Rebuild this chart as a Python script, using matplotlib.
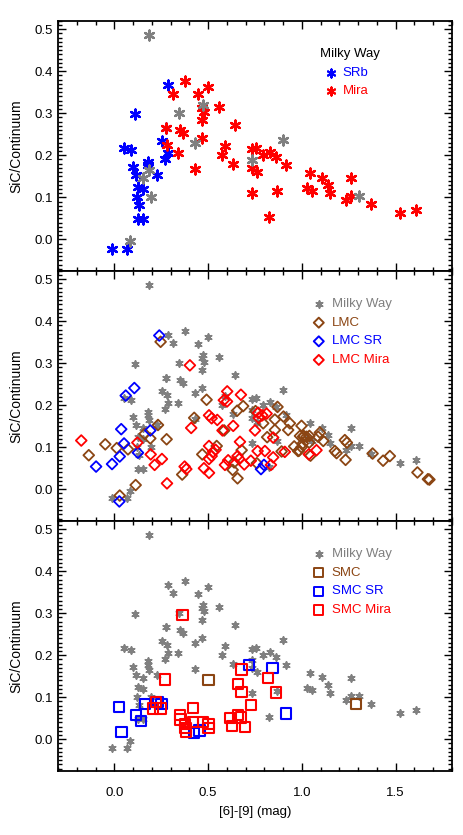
"""
SiC feature strength vs [6]-[9] colour for Galactic, LMC and SMC carbon stars.
Three stacked panels sharing the x axis, IDL-style framing.
"""

import matplotlib

matplotlib.use("Agg")
import matplotlib.pyplot as plt
from matplotlib.ticker import MultipleLocator

plt.rcParams["font.family"] = ["Liberation Sans", "DejaVu Sans"]
plt.rcParams["font.size"] = 9.5

# --- Milky Way -------------------------------------------------------------
MW_OTHER_X = [0.184, 0.084, 0.346, 0.430, 0.474, 0.155, 0.187, 0.196, 0.736, 0.899, 1.303]
MW_OTHER_Y = [0.486, -0.004, 0.301, 0.229, 0.320, 0.145, 0.165, 0.101, 0.189, 0.237, 0.103]

MW_SRB_X = [-0.011, 0.068, 0.110, 0.053, 0.089, 0.101, 0.116, 0.178, 0.180, 0.226, 0.128,
            0.155, 0.122, 0.132, 0.128, 0.155, 0.252, 0.268, 0.284, 0.276, 0.285]
MW_SRB_Y = [-0.022, -0.022, 0.298, 0.218, 0.213, 0.171, 0.153, 0.185, 0.177, 0.153, 0.124,
            0.120, 0.101, 0.081, 0.048, 0.048, 0.234, 0.192, 0.205, 0.266, 0.367]

MW_MIRA_X = [0.276, 0.282, 0.314, 0.378, 0.340, 0.350, 0.368, 0.431, 0.447, 0.502, 0.466,
             0.479, 0.468, 0.470, 0.560, 0.644, 0.592, 0.576, 0.633, 0.734, 0.754, 0.732,
             0.761, 0.736, 0.793, 0.828, 0.863, 0.913, 0.870, 0.824, 1.044, 1.027, 1.055,
             1.106, 1.140, 1.149, 1.236, 1.262, 1.262, 1.367, 1.523, 1.608]
MW_MIRA_Y = [0.266, 0.224, 0.347, 0.377, 0.206, 0.260, 0.252, 0.168, 0.346, 0.363, 0.312,
             0.304, 0.283, 0.240, 0.314, 0.271, 0.221, 0.200, 0.179, 0.215, 0.217, 0.169,
             0.161, 0.110, 0.200, 0.207, 0.195, 0.176, 0.115, 0.052, 0.157, 0.121, 0.116,
             0.147, 0.129, 0.110, 0.094, 0.104, 0.146, 0.084, 0.062, 0.069]

# --- LMC -------------------------------------------------------------------
LMC_X = [-0.136, -0.048, 0.013, 0.073, 0.029, 0.114, 0.162, 0.192, 0.233, 0.279, 0.247,
         0.362, 0.426, 0.492, 0.469, 0.546, 0.586, 0.655, 0.687, 0.679, 0.639, 0.631,
         0.657, 0.753, 0.760, 0.794, 0.815, 0.856, 0.870, 0.856, 0.902, 0.892, 0.936,
         0.927, 0.959, 0.985, 0.998, 1.007, 0.990, 1.010, 1.025, 1.040, 0.980, 0.998,
         1.039, 1.005, 1.046, 1.096, 1.087, 1.114, 1.229, 1.240, 1.176, 1.185, 1.233,
         1.377, 1.433, 1.469, 1.616, 1.672, 1.680]
LMC_Y = [0.081, 0.107, 0.098, 0.095, -0.015, 0.010, 0.132, 0.121, 0.153, 0.119, 0.351,
         0.035, 0.170, 0.213, 0.083, 0.103, 0.140, 0.187, 0.198, 0.093, 0.064, 0.046,
         0.026, 0.186, 0.062, 0.157, 0.124, 0.141, 0.196, 0.166, 0.173, 0.090, 0.157,
         0.141, 0.102, 0.092, 0.151, 0.125, 0.127, 0.127, 0.125, 0.127, 0.091, 0.100,
         0.111, 0.109, 0.080, 0.135, 0.125, 0.115, 0.117, 0.111, 0.091, 0.086, 0.070,
         0.085, 0.068, 0.079, 0.040, 0.024, 0.023]

LMC_SR_X = [-0.097, -0.012, 0.029, 0.052, 0.037, 0.061, 0.107, 0.126, 0.192, 0.240,
            0.027, 0.782, 0.798]
LMC_SR_Y = [0.054, 0.060, 0.078, 0.109, 0.143, 0.223, 0.241, 0.087, 0.140, 0.366,
            -0.029, 0.048, 0.058]

LMC_MIRA_X = [-0.176, 0.123, 0.194, 0.215, 0.254, 0.281, 0.375, 0.384, 0.403, 0.410,
              0.505, 0.519, 0.549, 0.577, 0.602, 0.584, 0.601, 0.634, 0.675, 0.750,
              0.670, 0.767, 0.789, 0.812, 0.770, 0.847, 0.909, 0.505, 0.527, 0.540,
              0.519, 0.505, 0.478, 0.505, 0.607, 0.590, 0.657, 0.666, 0.693, 0.728,
              0.764, 0.803, 0.847, 0.835, 1.037, 1.078]
LMC_MIRA_Y = [0.116, 0.111, 0.083, 0.058, 0.072, 0.014, 0.054, 0.048, 0.295, 0.146,
              0.176, 0.169, 0.165, 0.140, 0.233, 0.212, 0.209, 0.151, 0.225, 0.140,
              0.113, 0.182, 0.176, 0.180, 0.170, 0.123, 0.089, 0.103, 0.089, 0.094,
              0.079, 0.072, 0.050, 0.039, 0.069, 0.058, 0.079, 0.072, 0.059, 0.068,
              0.091, 0.091, 0.076, 0.058, 0.083, 0.093]

# --- SMC -------------------------------------------------------------------
SMC_X = [0.502, 1.289]
SMC_Y = [0.141, 0.083]

SMC_SR_X = [0.026, 0.038, 0.115, 0.141, 0.165, 0.232, 0.252, 0.424, 0.454, 0.718, 0.844, 0.915]
SMC_SR_Y = [0.076, 0.017, 0.057, 0.044, 0.083, 0.089, 0.083, 0.014, 0.021, 0.176, 0.170, 0.061]

SMC_MIRA_X = [0.363, 0.269, 0.222, 0.208, 0.247, 0.350, 0.353, 0.377, 0.380, 0.381, 0.420,
              0.418, 0.474, 0.502, 0.502, 0.616, 0.626, 0.661, 0.677, 0.697, 0.658, 0.679,
              0.679, 0.729, 0.821, 0.863]
SMC_MIRA_Y = [0.296, 0.142, 0.089, 0.073, 0.073, 0.057, 0.047, 0.037, 0.027, 0.017, 0.074,
              0.041, 0.041, 0.037, 0.027, 0.050, 0.032, 0.057, 0.052, 0.029, 0.131, 0.112,
              0.166, 0.082, 0.146, 0.111]

GRAY = "#808080"
BROWN = "#8B4513"
BLUE = "#0000FF"
RED = "#FF0000"
ASTERISK = (6, 2, 0)


def style_axis(axis, show_xlabels):
    axis.set_xlim(-0.3, 1.8)
    axis.set_ylim(-0.075, 0.52)
    axis.xaxis.set_major_locator(MultipleLocator(0.5))
    axis.xaxis.set_minor_locator(MultipleLocator(0.1))
    axis.yaxis.set_major_locator(MultipleLocator(0.1))
    axis.yaxis.set_minor_locator(MultipleLocator(0.01))
    axis.tick_params(which="both", direction="in", top=True, right=True, width=1.0)
    axis.tick_params(which="major", length=6)
    axis.tick_params(which="minor", length=3)
    axis.tick_params(axis="x", labelbottom=show_xlabels, pad=12)
    for spine in axis.spines.values():
        spine.set_linewidth(1.3)
    axis.set_ylabel("SiC/Continuum", labelpad=8, fontsize=10)


def draw_milky_way_gray(axis):
    axis.scatter(MW_OTHER_X + MW_SRB_X + MW_MIRA_X, MW_OTHER_Y + MW_SRB_Y + MW_MIRA_Y,
                 marker=ASTERISK, s=24, c=GRAY, linewidths=1.3)


def draw_legend(axis, rows, marker, size):
    for index, (label, color) in enumerate(rows):
        y_pos = 0.867 - index * 0.0745
        if index == 0:
            axis.scatter([0.662], [y_pos], transform=axis.transAxes, marker=ASTERISK, s=24,
                         c=color, linewidths=1.3)
        else:
            axis.scatter([0.662], [y_pos], transform=axis.transAxes, marker=marker, s=size,
                         facecolors="none", edgecolors=color, linewidths=1.4)
        axis.text(0.695, y_pos, label, color=color, transform=axis.transAxes,
                  va="center", ha="left")


figure, axes = plt.subplots(3, 1, figsize=(4.64, 8.35), dpi=100, sharex=True)
figure.subplots_adjust(left=0.125, right=0.974, top=0.975, bottom=0.077, hspace=0)

# Panel 1: Milky Way by variability class
ax1 = axes[0]
ax1.scatter(MW_SRB_X, MW_SRB_Y, marker=ASTERISK, s=50, c=BLUE, linewidths=1.7)
ax1.scatter(MW_MIRA_X, MW_MIRA_Y, marker=ASTERISK, s=50, c=RED, linewidths=1.7)
ax1.scatter(MW_OTHER_X, MW_OTHER_Y, marker=ASTERISK, s=50, c=GRAY, linewidths=1.7)
ax1.text(0.665, 0.867, "Milky Way", color="black", transform=ax1.transAxes,
         va="center", ha="left")
for y_pos, label, color in [(0.791, "SRb", BLUE), (0.719, "Mira", RED)]:
    ax1.scatter([0.693], [y_pos], transform=ax1.transAxes, marker=ASTERISK, s=34,
                c=color, linewidths=1.5)
    ax1.text(0.723, y_pos, label, color=color, transform=ax1.transAxes,
             va="center", ha="left")
style_axis(ax1, False)

# Panel 2: LMC
ax2 = axes[1]
draw_milky_way_gray(ax2)
ax2.scatter(LMC_X, LMC_Y, marker="D", s=30, facecolors="none", edgecolors=BROWN, linewidths=1.3)
ax2.scatter(LMC_SR_X, LMC_SR_Y, marker="D", s=30, facecolors="none", edgecolors=BLUE, linewidths=1.3)
ax2.scatter(LMC_MIRA_X, LMC_MIRA_Y, marker="D", s=30, facecolors="none", edgecolors=RED, linewidths=1.3)
draw_legend(ax2, [("Milky Way", GRAY), ("LMC", BROWN), ("LMC SR", BLUE), ("LMC Mira", RED)],
            "D", 26)
style_axis(ax2, False)

# Panel 3: SMC
ax3 = axes[2]
draw_milky_way_gray(ax3)
ax3.scatter(SMC_X, SMC_Y, marker="s", s=55, facecolors="none", edgecolors=BROWN, linewidths=1.5)
ax3.scatter(SMC_SR_X, SMC_SR_Y, marker="s", s=55, facecolors="none", edgecolors=BLUE, linewidths=1.5)
ax3.scatter(SMC_MIRA_X, SMC_MIRA_Y, marker="s", s=55, facecolors="none", edgecolors=RED, linewidths=1.5)
draw_legend(ax3, [("Milky Way", GRAY), ("SMC", BROWN), ("SMC SR", BLUE), ("SMC Mira", RED)],
            "s", 45)
style_axis(ax3, True)
ax3.set_xlabel("[6]-[9] (mag)", labelpad=5)

figure.savefig("out.png", dpi=100)
plt.close(figure)
